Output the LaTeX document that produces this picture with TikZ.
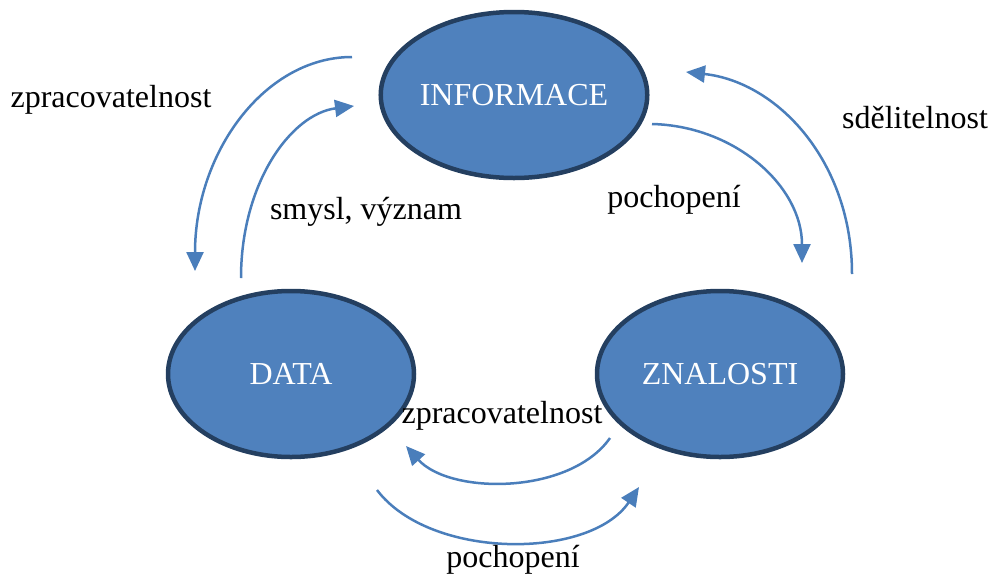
\documentclass[tikz,border=0pt]{standalone}
\usepackage{fontspec}
\setmainfont{Liberation Serif}
\usetikzlibrary{arrows.meta,shapes.geometric}
\definecolor{ovalfill}{HTML}{4F81BD}
\definecolor{ovalline}{HTML}{243F60}
\definecolor{flow}{HTML}{4A7EBB}
\begin{document}
\begin{tikzpicture}[x=1pt,y=-1pt,
  oval/.style={ellipse, draw=ovalline, line width=4.5pt, fill=ovalfill,
    minimum width=#1, minimum height=166pt, inner sep=0pt,
    text=white, font=\fontsize{32}{38}\selectfont},
  flowarrow/.style={draw=flow, line width=2.5pt,
    -{Triangle[length=19pt,width=17pt]}},
  caption/.style={font=\fontsize{32}{38}\selectfont, inner sep=0pt}]
\useasboundingbox (0,0) rectangle (990,576);

% the three states
\node[oval=244pt] (info) at (514,95) {INFORMACE};
\node[oval=246pt] (data) at (291,374) {DATA};
\node[oval=246pt] (know) at (720,374) {ZNALOSTI};

% end points of the curved transitions
\coordinate (a1s) at (352,57);   \coordinate (a1e) at (195,271);
\coordinate (a2s) at (241,278);  \coordinate (a2e) at (354,106);
\coordinate (a3s) at (652,124);  \coordinate (a3e) at (802,263);
\coordinate (a4s) at (852,274);  \coordinate (a4e) at (686,72);
\coordinate (a5s) at (610,438);  \coordinate (a5e) at (406,446);
\coordinate (a6s) at (377,490);  \coordinate (a6e) at (639,487);

\draw[flowarrow] (a1s) .. controls (265,57) and (195,152) .. (a1e);
\draw[flowarrow] (a2s) .. controls (241,183) and (291,114) .. (a2e);
\draw[flowarrow] (a3s) .. controls (735,126) and (802,186) .. (a3e);
\draw[flowarrow] (a4s) .. controls (852,162) and (778,82) .. (a4e);
\draw[flowarrow] (a5s) .. controls (570,495) and (450,495) .. (a5e);
\draw[flowarrow] (a6s) .. controls (430,560) and (590,560) .. (a6e);

% transition labels
\node[caption] (l1) at (111,100) {zpracovatelnost};
\node[caption] (l2) at (366,212) {smysl, význam};
\node[caption] (l3) at (674,200) {pochopení};
\node[caption] (l4) at (915,118) {sdělitelnost};
\node[caption] (l5) at (502,416) {zpracovatelnost};
\node[caption] (l6) at (513,560) {pochopení};
\end{tikzpicture}
\end{document}
